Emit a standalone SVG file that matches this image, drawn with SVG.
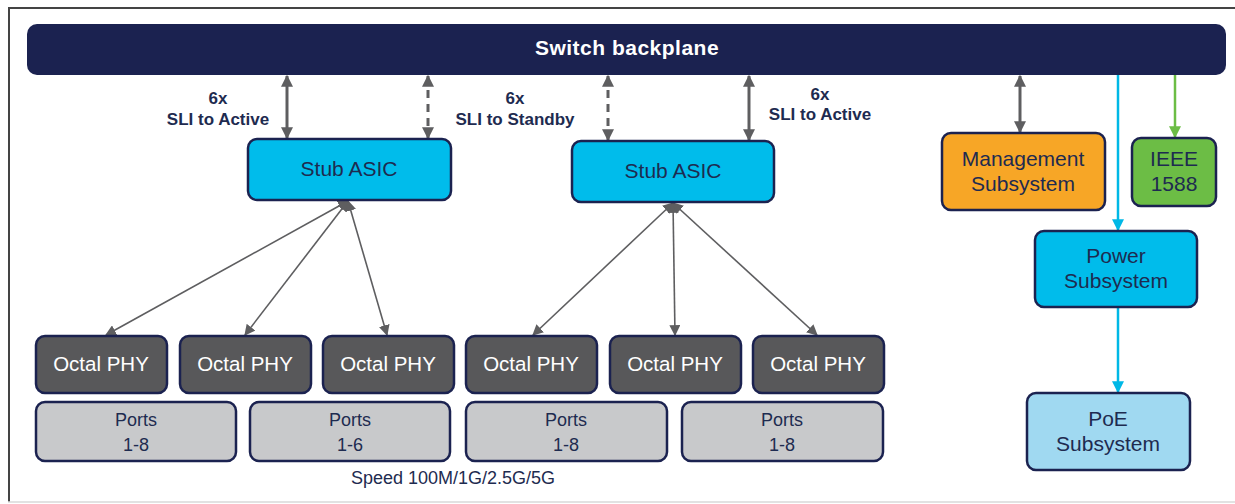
<svg xmlns="http://www.w3.org/2000/svg" width="1235" height="504" viewBox="0 0 1235 504">
<defs>
<style>
.t{font-family:"Liberation Sans",Arial,sans-serif;text-anchor:middle}
.box{stroke:#1b2250;stroke-width:2.5}
.lbl{font-size:17px;font-weight:bold;fill:#1e2b50}
.nt{font-size:21px;fill:#1e2b50}
.wt{font-size:20.5px;fill:#ffffff}
.pt{font-size:18px;fill:#1e2b50}
.g{stroke:#5e5e60;fill:none}
</style>
<marker id="ag" viewBox="0 0 10 10" refX="9" refY="5" markerWidth="11" markerHeight="11" markerUnits="userSpaceOnUse" orient="auto-start-reverse"><path d="M0,0 L10,5 L0,10 z" fill="#5e5e60"/></marker>
<marker id="as" viewBox="0 0 10 10" refX="9" refY="5" markerWidth="12" markerHeight="12" markerUnits="userSpaceOnUse" orient="auto-start-reverse"><path d="M0,0 L10,5 L0,10 z" fill="#5e5e60"/></marker>
<marker id="ab" viewBox="0 0 10 10" refX="9" refY="5" markerWidth="12" markerHeight="12" markerUnits="userSpaceOnUse" orient="auto"><path d="M0,0 L10,5 L0,10 z" fill="#00b8e6"/></marker>
<marker id="agr" viewBox="0 0 10 10" refX="9" refY="5" markerWidth="12" markerHeight="12" markerUnits="userSpaceOnUse" orient="auto"><path d="M0,0 L10,5 L0,10 z" fill="#6cbd45"/></marker>
</defs>
<rect width="1235" height="504" fill="#ffffff"/>
<g id="frame">
<line x1="8" y1="8" x2="1235" y2="8" stroke="#444" stroke-width="2"/>
<line x1="9" y1="7" x2="9" y2="502" stroke="#444" stroke-width="2"/>
<line x1="8" y1="502" x2="1235" y2="502" stroke="#d8d8d8" stroke-width="1.5"/>
</g>
<g id="connectors">
<line class="g" x1="287" y1="76" x2="287" y2="138" stroke-width="3" marker-start="url(#as)" marker-end="url(#as)"/>
<line class="g" x1="428" y1="76" x2="428" y2="138" stroke-width="3" stroke-dasharray="8,6" marker-start="url(#as)" marker-end="url(#as)"/>
<line class="g" x1="608" y1="76" x2="608" y2="140" stroke-width="3" stroke-dasharray="8,6" marker-start="url(#as)" marker-end="url(#as)"/>
<line class="g" x1="749" y1="76" x2="749" y2="140" stroke-width="3" marker-start="url(#as)" marker-end="url(#as)"/>
<line class="g" x1="1020" y1="76" x2="1020" y2="132" stroke-width="3" marker-start="url(#as)" marker-end="url(#as)"/>
<line x1="1118" y1="75" x2="1118" y2="230" stroke="#00b8e6" stroke-width="2.5" marker-end="url(#ab)"/>
<line x1="1175" y1="75" x2="1175" y2="137" stroke="#6cbd45" stroke-width="2.5" marker-end="url(#agr)"/>
<line x1="1118" y1="307" x2="1118" y2="392" stroke="#00b8e6" stroke-width="2.5" marker-end="url(#ab)"/>
<line class="g" x1="348" y1="201" x2="106" y2="335" stroke-width="1.6" marker-start="url(#ag)" marker-end="url(#ag)"/>
<line class="g" x1="348" y1="201" x2="245" y2="335" stroke-width="1.6" marker-start="url(#ag)" marker-end="url(#ag)"/>
<line class="g" x1="348" y1="201" x2="387" y2="335" stroke-width="1.6" marker-start="url(#ag)" marker-end="url(#ag)"/>
<line class="g" x1="673" y1="203" x2="533" y2="335" stroke-width="1.6" marker-start="url(#ag)" marker-end="url(#ag)"/>
<line class="g" x1="673" y1="203" x2="675" y2="335" stroke-width="1.6" marker-start="url(#ag)" marker-end="url(#ag)"/>
<line class="g" x1="673" y1="203" x2="817" y2="335" stroke-width="1.6" marker-start="url(#ag)" marker-end="url(#ag)"/>
</g>
<g id="backplane">
<rect x="27" y="24" width="1199" height="51" rx="10" fill="#1b2250"/>
<text class="t" x="627" y="55" font-size="21" font-weight="bold" letter-spacing="0.5" fill="#ffffff">Switch backplane</text>
</g>
<g id="label-active-1"><text class="t lbl" x="218" y="104">6x</text><text class="t lbl" x="218" y="125">SLI to Active</text></g>
<g id="label-standby"><text class="t lbl" x="515" y="104">6x</text><text class="t lbl" x="515" y="125">SLI to Standby</text></g>
<g id="label-active-2"><text class="t lbl" x="820" y="100">6x</text><text class="t lbl" x="820" y="120">SLI to Active</text></g>
<g id="stub1"><rect class="box" x="248" y="139" width="203" height="61" rx="9" fill="#00bceb"/><text class="t nt" x="349" y="176">Stub ASIC</text></g>
<g id="stub2"><rect class="box" x="572" y="141" width="202" height="61" rx="9" fill="#00bceb"/><text class="t nt" x="673" y="178">Stub ASIC</text></g>
<g id="mgmt"><rect class="box" x="942" y="133" width="163" height="77" rx="9" fill="#f7a626"/><text class="t nt" x="1023" y="166">Management</text><text class="t nt" x="1023" y="191">Subsystem</text></g>
<g id="ieee"><rect class="box" x="1132" y="138" width="84" height="68" rx="9" fill="#6cbd45"/><text class="t nt" x="1174" y="166">IEEE</text><text class="t nt" x="1174" y="191">1588</text></g>
<g id="power"><rect class="box" x="1035" y="231" width="162" height="76" rx="9" fill="#00bceb"/><text class="t nt" x="1116" y="263">Power</text><text class="t nt" x="1116" y="288">Subsystem</text></g>
<g id="poe"><rect class="box" x="1027" y="393" width="163" height="77" rx="9" fill="#a0d9f1"/><text class="t nt" x="1108" y="426">PoE</text><text class="t nt" x="1108" y="451">Subsystem</text></g>
<g id="phy1"><rect class="box" x="36" y="336" width="131" height="57" rx="9" fill="#58585a"/><text class="t wt" x="101" y="371">Octal PHY</text></g>
<g id="phy2"><rect class="box" x="180" y="336" width="131" height="57" rx="9" fill="#58585a"/><text class="t wt" x="245" y="371">Octal PHY</text></g>
<g id="phy3"><rect class="box" x="323" y="336" width="131" height="57" rx="9" fill="#58585a"/><text class="t wt" x="388" y="371">Octal PHY</text></g>
<g id="phy4"><rect class="box" x="466" y="336" width="131" height="57" rx="9" fill="#58585a"/><text class="t wt" x="531" y="371">Octal PHY</text></g>
<g id="phy5"><rect class="box" x="610" y="336" width="131" height="57" rx="9" fill="#58585a"/><text class="t wt" x="675" y="371">Octal PHY</text></g>
<g id="phy6"><rect class="box" x="753" y="336" width="131" height="57" rx="9" fill="#58585a"/><text class="t wt" x="818" y="371">Octal PHY</text></g>
<g id="ports1"><rect class="box" x="36" y="402" width="200" height="59" rx="9" fill="#c8c9cb"/><text class="t pt" x="136" y="426">Ports</text><text class="t pt" x="136" y="451">1-8</text></g>
<g id="ports2"><rect class="box" x="250" y="402" width="200" height="59" rx="9" fill="#c8c9cb"/><text class="t pt" x="350" y="426">Ports</text><text class="t pt" x="350" y="451">1-6</text></g>
<g id="ports3"><rect class="box" x="466" y="402" width="201" height="59" rx="9" fill="#c8c9cb"/><text class="t pt" x="566" y="426">Ports</text><text class="t pt" x="566" y="451">1-8</text></g>
<g id="ports4"><rect class="box" x="682" y="402" width="201" height="59" rx="9" fill="#c8c9cb"/><text class="t pt" x="782" y="426">Ports</text><text class="t pt" x="782" y="451">1-8</text></g>
<g id="speed"><text class="t pt" x="453" y="484" font-size="19">Speed 100M/1G/2.5G/5G</text></g>
</svg>
